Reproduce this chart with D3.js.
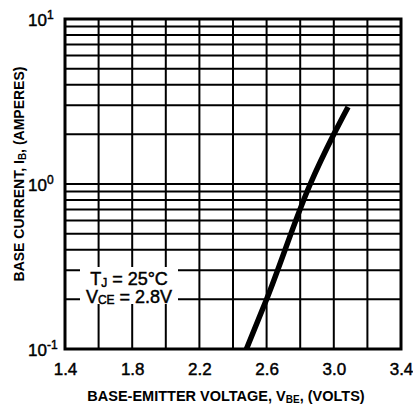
<!DOCTYPE html>
<html><head><meta charset="utf-8">
<script src="https://cdn.jsdelivr.net/npm/d3@7"></script>
<style>
html,body{margin:0;padding:0;background:#fff;}
text{font-family:"Liberation Sans",Arial,Helvetica,sans-serif;fill:#000;}
.heavy{stroke:#000;stroke-width:0.45px;}
</style></head>
<body>
<svg id="c" width="413" height="408"></svg>
<script>
// Data
const xTickValues = [1.4, 1.8, 2.2, 2.6, 3.0, 3.4];
const xTickLabels = ["1.4", "1.8", "2.2", "2.6", "3.0", "3.4"];
const xGridValues = [1.6, 1.8, 2.0, 2.2, 2.4, 2.6, 2.8, 3.0, 3.2];
const yTickValues = [0.1, 1, 10];
const yTickExponents = ["-1", "0", "1"];
const yGridValues = [0.2,0.3,0.4,0.5,0.6,0.7,0.8,0.9,1,2,3,4,5,6,7,8,9];
const vbe = [2.48, 2.6, 2.86, 3.00, 3.085];
const ib  = [0.1, 0.2, 1.0, 2.0, 2.93];

const L = 65, R = 401, T = 19, B = 349;
const svg = d3.select("#c");
const x = d3.scaleLinear().domain([1.4, 3.4]).range([L, R]);
const y = d3.scaleLog().domain([0.1, 10]).range([B, T]);

// grid
svg.append("g").selectAll("line").data(xGridValues).join("line")
  .attr("x1", d => x(d)).attr("x2", d => x(d)).attr("y1", T).attr("y2", B)
  .attr("stroke", "#000").attr("stroke-width", 2);
svg.append("g").selectAll("line").data(yGridValues).join("line")
  .attr("x1", L).attr("x2", R).attr("y1", d => y(d)).attr("y2", d => y(d))
  .attr("stroke", "#000").attr("stroke-width", 2);

// annotation box
svg.append("rect").attr("x", 80).attr("y", 267).attr("width", 98).attr("height", 37).attr("fill", "#fff");
const a1 = svg.append("text").attr("class", "heavy").attr("x", 129).attr("y", 285).attr("text-anchor", "middle").attr("font-size", 18);
a1.append("tspan").text("T");
a1.append("tspan").attr("font-size", 12).attr("dy", 2).text("J");
a1.append("tspan").attr("dy", -2).text(" = 25°C");
const a2 = svg.append("text").attr("class", "heavy").attr("x", 129).attr("y", 303).attr("text-anchor", "middle").attr("font-size", 18);
a2.append("tspan").text("V");
a2.append("tspan").attr("font-size", 12).attr("dy", 1).text("CE");
a2.append("tspan").attr("dy", -1).text(" = 2.8V");

// border
svg.append("rect").attr("x", L).attr("y", T).attr("width", R - L).attr("height", B - T)
  .attr("fill", "none").attr("stroke", "#000").attr("stroke-width", 3);

// curve
const pts = vbe.map((v, i) => [v, ib[i]]);
svg.append("path").datum(pts)
  .attr("d", d3.line().x(d => x(d[0])).y(d => y(d[1])).curve(d3.curveMonotoneX))
  .attr("fill", "none").attr("stroke", "#000").attr("stroke-width", 5.5).attr("stroke-linecap", "butt");

// x axis labels
const xa = svg.append("g").attr("transform", `translate(0,${B})`)
  .call(d3.axisBottom(x).tickValues(xTickValues).tickSize(0).tickPadding(14)
    .tickFormat((d, i) => xTickLabels[i]));
xa.select(".domain").remove();
xa.selectAll("text").attr("class", "heavy").attr("font-size", 17).attr("font-family", '"Liberation Sans",Arial,sans-serif').attr("fill", "#000");

// y axis labels
const yl = svg.append("g").selectAll("text").data(yTickValues).join("text")
  .attr("class", "heavy").attr("x", 28).attr("y", d => y(d) + 7).attr("font-size", 17);
yl.append("tspan").text("10");
yl.append("tspan").attr("font-size", 12).attr("dy", -7).text((d, i) => yTickExponents[i]);

// titles
const xt = svg.append("text").attr("x", 226).attr("y", 401).attr("text-anchor", "middle")
  .attr("font-size", 14.5).attr("font-weight", "bold");
xt.append("tspan").text("BASE-EMITTER VOLTAGE, V");
xt.append("tspan").attr("font-size", 10).attr("dy", 2).text("BE");
xt.append("tspan").attr("dy", -2).text(", (VOLTS)");

const yt = svg.append("text").attr("transform", "translate(24,174) rotate(-90)").attr("text-anchor", "middle")
  .attr("font-size", 14).attr("font-weight", "bold");
yt.append("tspan").text("BASE CURRENT, I");
yt.append("tspan").attr("font-size", 10).attr("dy", 2).text("B");
yt.append("tspan").attr("dy", -2).text(", (AMPERES)");
</script>
</body></html>
